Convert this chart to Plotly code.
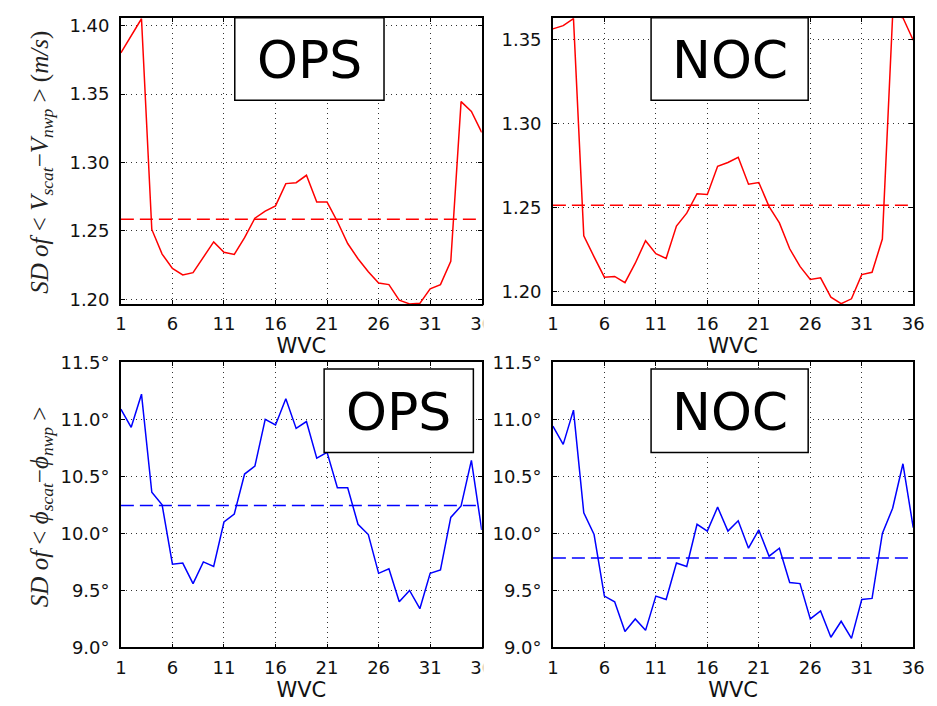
import plotly.graph_objects as go

# Wind vector cell index across the swath
wvc = list(range(1, 37))

# SD of speed difference (m/s) per WVC
ops_speed = [1.380, 1.392, 1.405, 1.251, 1.233, 1.2225, 1.2178, 1.2194, 1.2308, 1.2419,
             1.2343, 1.2327, 1.245, 1.2592, 1.2644, 1.2682, 1.2845, 1.2852, 1.2906, 1.271,
             1.271, 1.2568, 1.2407, 1.2296, 1.2201, 1.2118, 1.2107, 1.1993, 1.1966, 1.197,
             1.2076, 1.2107, 1.2277, 1.3444, 1.3373, 1.3219]
noc_speed = [1.3564, 1.3583, 1.3625, 1.2331, 1.2206, 1.2085, 1.2089, 1.2052, 1.2168, 1.2302,
             1.2225, 1.2197, 1.2389, 1.2466, 1.2582, 1.2578, 1.2745, 1.2768, 1.2799, 1.2639,
             1.2649, 1.2505, 1.2408, 1.2254, 1.2149, 1.2071, 1.2081, 1.1966, 1.1927, 1.1956,
             1.2100, 1.2114, 1.2312, 1.3645, 1.3630, 1.3496]

# SD of direction difference (degrees) per WVC
ops_dir = [11.09, 10.93, 11.22, 10.36, 10.25, 9.73, 9.74, 9.56, 9.75, 9.71,
           10.10, 10.17, 10.52, 10.59, 11.00, 10.95, 11.18, 10.92, 10.98, 10.66,
           10.71, 10.40, 10.40, 10.08, 9.99, 9.65, 9.69, 9.40, 9.50, 9.34,
           9.65, 9.68, 10.14, 10.24, 10.64, 10.03]
noc_dir = [10.94, 10.78, 11.08, 10.18, 9.99, 9.45, 9.40, 9.14, 9.25, 9.15,
           9.45, 9.42, 9.74, 9.71, 10.08, 10.02, 10.23, 10.02, 10.11, 9.87,
           10.03, 9.80, 9.87, 9.57, 9.56, 9.25, 9.32, 9.09, 9.23, 9.08,
           9.42, 9.43, 10.00, 10.22, 10.61, 10.05]

# Swath-mean values (dashed lines)
ops_speed_mean = 1.2585
noc_speed_mean = 1.2514
ops_dir_mean = 10.245
noc_dir_mean = 9.785

x_ticks = [1, 6, 11, 16, 21, 26, 31, 36]
ops_speed_ticks = [1.20, 1.25, 1.30, 1.35, 1.40]
noc_speed_ticks = [1.20, 1.25, 1.30, 1.35]
dir_ticks = [9.0, 9.5, 10.0, 10.5, 11.0, 11.5]
dir_tick_labels = ["9.0°", "9.5°", "10.0°", "10.5°", "11.0°", "11.5°"]

ops_speed_range = [1.1965, 1.4057]
noc_speed_range = [1.1925, 1.3630]
dir_range = [9.0, 11.5]

W, H = 937, 706


def px_x(p):
    return p / W


def px_y(p):
    return 1 - p / H


RED = "#ff0000"
BLUE = "#0000ff"
SANS = "DejaVu Sans"

fig = go.Figure()

panels = [
    # (axis suffix, values, mean, colour)
    ("", ops_speed, ops_speed_mean, RED),
    ("2", noc_speed, noc_speed_mean, RED),
    ("3", ops_dir, ops_dir_mean, BLUE),
    ("4", noc_dir, noc_dir_mean, BLUE),
]

for suf, vals, mean, col in panels:
    xa, ya = "x" + suf, "y" + suf
    fig.add_trace(go.Scatter(x=wvc, y=vals, mode="lines", xaxis=xa, yaxis=ya,
                             line=dict(color=col, width=1.5), showlegend=False,
                             hoverinfo="skip"))
    fig.add_trace(go.Scatter(x=[wvc[0], wvc[-1]], y=[mean, mean], mode="lines",
                             xaxis=xa, yaxis=ya,
                             line=dict(color=col, width=1.5, dash="13px,6px"),
                             showlegend=False, hoverinfo="skip"))

left_dom = [px_x(117), px_x(484.5)]
right_dom = [px_x(557), px_x(924)]
top_dom = [px_y(302), px_y(7)]
bot_dom = [px_y(656), px_y(362)]

common_axis = dict(
    showline=True, linecolor="black", linewidth=1.5, mirror="allticks",
    ticks="inside", ticklen=4, tickwidth=1, tickcolor="black",
    showgrid=True, gridcolor="#333333", gridwidth=1, griddash="1px,4px",
    zeroline=False, tickfont=dict(family=SANS, size=18, color="#111111"),
)

xcommon = dict(common_axis, range=[1, 36], tickmode="array", tickvals=x_ticks,
               ticktext=[str(t) for t in x_ticks],
               title=dict(text="WVC", font=dict(family=SANS, size=21, color="#111111"),
                          standoff=0),
               ticklabelstandoff=3)

fig.update_layout(
    width=W, height=H,
    margin=dict(l=0, r=0, t=0, b=0),
    paper_bgcolor="white", plot_bgcolor="white",
    xaxis=dict(xcommon, domain=left_dom, anchor="y"),
    xaxis2=dict(xcommon, domain=right_dom, anchor="y2"),
    xaxis3=dict(xcommon, domain=left_dom, anchor="y3"),
    xaxis4=dict(xcommon, domain=right_dom, anchor="y4"),
    yaxis=dict(common_axis, domain=top_dom, anchor="x", range=ops_speed_range,
               tickmode="array", tickvals=ops_speed_ticks,
               ticktext=[f"{v:.2f}" for v in ops_speed_ticks], ticklabelstandoff=6),
    yaxis2=dict(common_axis, domain=top_dom, anchor="x2", range=noc_speed_range,
                tickmode="array", tickvals=noc_speed_ticks,
                ticktext=[f"{v:.2f}" for v in noc_speed_ticks], ticklabelstandoff=6),
    yaxis3=dict(common_axis, domain=bot_dom, anchor="x3", range=dir_range,
                tickmode="array", tickvals=dir_ticks, ticktext=dir_tick_labels,
                ticklabelstandoff=6),
    yaxis4=dict(common_axis, domain=bot_dom, anchor="x4", range=dir_range,
                tickmode="array", tickvals=dir_ticks, ticktext=dir_tick_labels,
                ticklabelstandoff=6),
)

# Product name boxes
boxes = [
    ("OPS", 233, 385, 7, 92),
    ("NOC", 657, 817, 7, 92),
    ("OPS", 324, 476, 369, 455),
    ("NOC", 657, 817, 369, 455),
]
for text, x0, x1, y0, y1 in boxes:
    fig.add_shape(type="rect", xref="paper", yref="paper",
                  x0=px_x(x0), x1=px_x(x1), y0=px_y(y1), y1=px_y(y0),
                  fillcolor="white", line=dict(color="black", width=1.5), layer="above")
    fig.add_annotation(xref="paper", yref="paper", x=px_x((x0 + x1) / 2),
                       y=px_y((y0 + y1) / 2 + 1), text=text, showarrow=False,
                       xanchor="center", yanchor="middle",
                       font=dict(family=SANS, size=52, color="black"))

# Left panels' right-hand tick label is cut off by the neighbouring panel
for y0, y1 in [(303, 350), (657, 706)]:
    fig.add_shape(type="rect", xref="paper", yref="paper",
                  x0=px_x(486), x1=px_x(496), y0=px_y(y1), y1=px_y(y0),
                  fillcolor="white", line=dict(width=0), layer="above")

# Y-axis labels
SERIF = "Liberation Serif"
fig.add_annotation(xref="paper", yref="paper", x=px_x(36), y=px_y(156),
                   text="<i>SD of</i> &lt; <i>V</i><sub><i>scat</i></sub>−<i>V</i><sub><i>nwp</i></sub> &gt; (<i>m/s</i>)",
                   textangle=-90, showarrow=False, xanchor="center", yanchor="middle",
                   font=dict(family=SERIF, size=25, color="#222222"))
fig.add_annotation(xref="paper", yref="paper", x=px_x(36), y=px_y(511),
                   text="<i>SD of</i> &lt; <i>ϕ</i><sub><i>scat</i></sub>−<i>ϕ</i><sub><i>nwp</i></sub> &gt;",
                   textangle=-90, showarrow=False, xanchor="center", yanchor="middle",
                   font=dict(family=SERIF, size=25, color="#222222"))

fig.write_html("out.html")
